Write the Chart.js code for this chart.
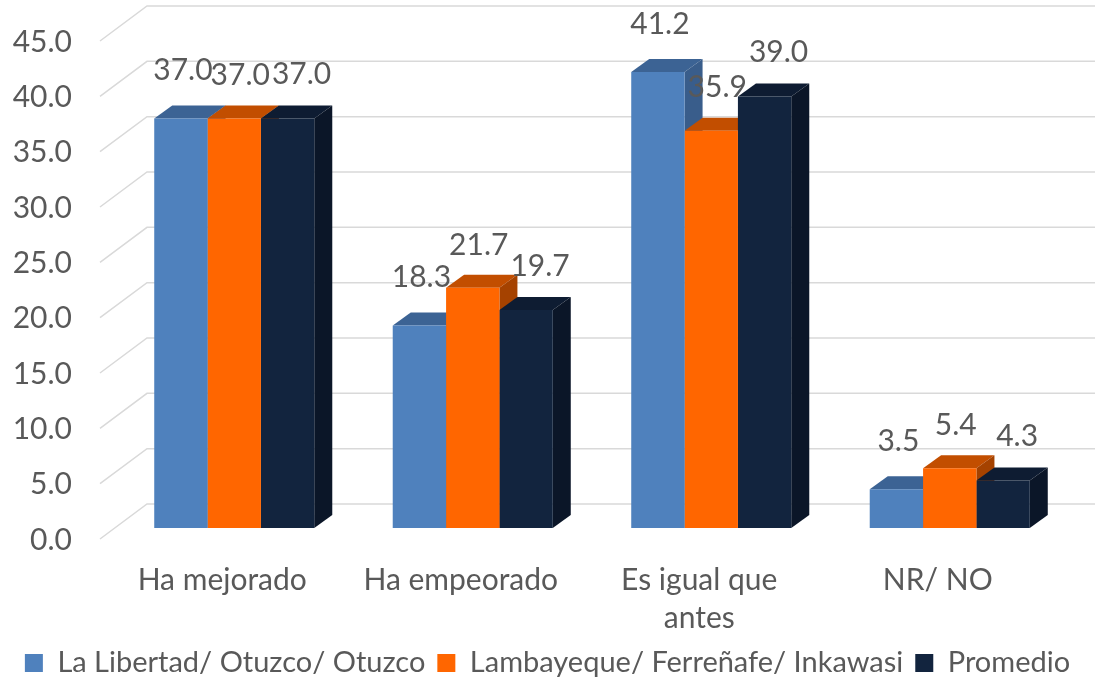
<!DOCTYPE html>
<html>
<head>
<meta charset="utf-8">
<script src="https://cdn.jsdelivr.net/npm/chart.js@4/dist/chart.umd.min.js"></script>
<style>
  html, body { margin: 0; padding: 0; background: #ffffff; }
  #wrap { width: 1095px; height: 680px; position: relative; }
</style>
</head>
<body>
<div id="wrap"><canvas id="c"></canvas></div>
<script>
// ---- data ----
const categories = ['Ha mejorado', 'Ha empeorado', ['Es igual que', 'antes'], 'NR/ NO'];
const seriesNames = ['La Libertad/ Otuzco/ Otuzco', 'Lambayeque/ Ferreñafe/ Inkawasi', 'Promedio'];
const laLibertad = [37.0, 18.3, 41.2, 3.5];
const lambayeque = [37.0, 21.7, 35.9, 5.4];
const promedio   = [37.0, 19.7, 39.0, 4.3];
const yMin = 0, yMax = 45, yStep = 5;

// ---- styles ----
const frontColors = ['#4f81bd', '#ff6600', '#12243e'];
const topColors   = ['#3c6394', '#c24e00', '#0e1c32'];
const sideColors  = ['#395d8b', '#a54200', '#0b1628'];
const FONT = 'Lato, "Open Sans", sans-serif';
const TEXT = '#595959';
const DX = 18, DY = 13;
const labelDx = [2, 6, 14];
const labelDy = [-48, -43, -44];

const threeD = {
  id: 'threeD',
  beforeDatasetsDraw(chart) {
    const ctx = chart.ctx, ys = chart.scales.y, area = chart.chartArea;
    ctx.save();
    ctx.strokeStyle = '#d9d9d9';
    ctx.lineWidth = 1.5;
    ys.ticks.forEach(t => {
      const p = ys.getPixelForValue(t.value);
      ctx.beginPath();
      ctx.moveTo(area.left - 15, p + 11);
      ctx.lineTo(area.left + 32, p - 24);
      ctx.lineTo(chart.width, p - 24);
      ctx.stroke();
    });
    const nSets = chart.data.datasets.length;
    for (let j = 0; j < chart.data.labels.length; j++) {
      for (let i = 0; i < nSets; i++) {
        const el = chart.getDatasetMeta(i).data[j];
        const l = el.x - el.width / 2, r = el.x + el.width / 2, t = el.y, b = el.base;
        ctx.fillStyle = topColors[i];
        ctx.beginPath();
        ctx.moveTo(l, t); ctx.lineTo(r, t); ctx.lineTo(r + DX, t - DY); ctx.lineTo(l + DX, t - DY);
        ctx.closePath(); ctx.fill();
        ctx.fillStyle = sideColors[i];
        ctx.beginPath();
        ctx.moveTo(r, t); ctx.lineTo(r + DX, t - DY); ctx.lineTo(r + DX, b - DY); ctx.lineTo(r, b);
        ctx.closePath(); ctx.fill();
      }
    }
    ctx.restore();
  },
  afterDatasetsDraw(chart) {
    const ctx = chart.ctx;
    ctx.save();
    ctx.font = '30px ' + FONT;
    ctx.fillStyle = TEXT;
    ctx.textAlign = 'center';
    ctx.textBaseline = 'middle';
    chart.data.datasets.forEach((ds, i) => {
      chart.getDatasetMeta(i).data.forEach((el, j) => {
        ctx.fillText(ds.data[j].toFixed(1), el.x + labelDx[i], el.y + labelDy[i]);
      });
    });
    ctx.restore();
  }
};

new Chart(document.getElementById('c'), {
  type: 'bar',
  data: {
    labels: categories,
    datasets: [
      { label: seriesNames[0], data: laLibertad, backgroundColor: frontColors[0] },
      { label: seriesNames[1], data: lambayeque, backgroundColor: frontColors[1] },
      { label: seriesNames[2], data: promedio,   backgroundColor: frontColors[2] }
    ]
  },
  options: {
    responsive: true,
    maintainAspectRatio: false,
    animation: false,
    layout: { padding: { top: 30, right: 0, bottom: -7.5, left: 0 } },
    datasets: { bar: { categoryPercentage: 0.671, barPercentage: 1.0, borderWidth: 0 } },
    scales: {
      x: {
        grid: { display: false, drawTicks: false },
        border: { display: false },
        ticks: {
          color: TEXT, font: { family: FONT, size: 30, lineHeight: 1.27 },
          padding: 33, labelOffset: -12, maxRotation: 0, autoSkip: false
        },
        afterFit(scale) { scale.height = 108.5; }
      },
      y: {
        min: yMin, max: yMax,
        grid: { display: false, drawTicks: false },
        border: { display: false },
        ticks: {
          stepSize: yStep, color: TEXT, font: { family: FONT, size: 30 },
          padding: 43, labelOffset: 12,
          callback: v => Number(v).toFixed(1)
        },
        afterFit(scale) { scale.width = 115; scale.paddingTop = 0; scale.paddingBottom = 0; }
      },
      yRight: {
        position: 'right',
        display: true,
        grid: { display: false, drawTicks: false },
        border: { display: false },
        ticks: { display: false },
        afterFit(scale) { scale.width = 26; scale.paddingTop = 0; scale.paddingBottom = 0; }
      }
    },
    plugins: {
      legend: {
        position: 'bottom',
        labels: { color: TEXT, font: { family: FONT, size: 29 }, boxWidth: 18, boxHeight: 18, padding: 12 }
      },
      tooltip: { enabled: false }
    }
  },
  plugins: [threeD]
});
</script>
</body>
</html>
